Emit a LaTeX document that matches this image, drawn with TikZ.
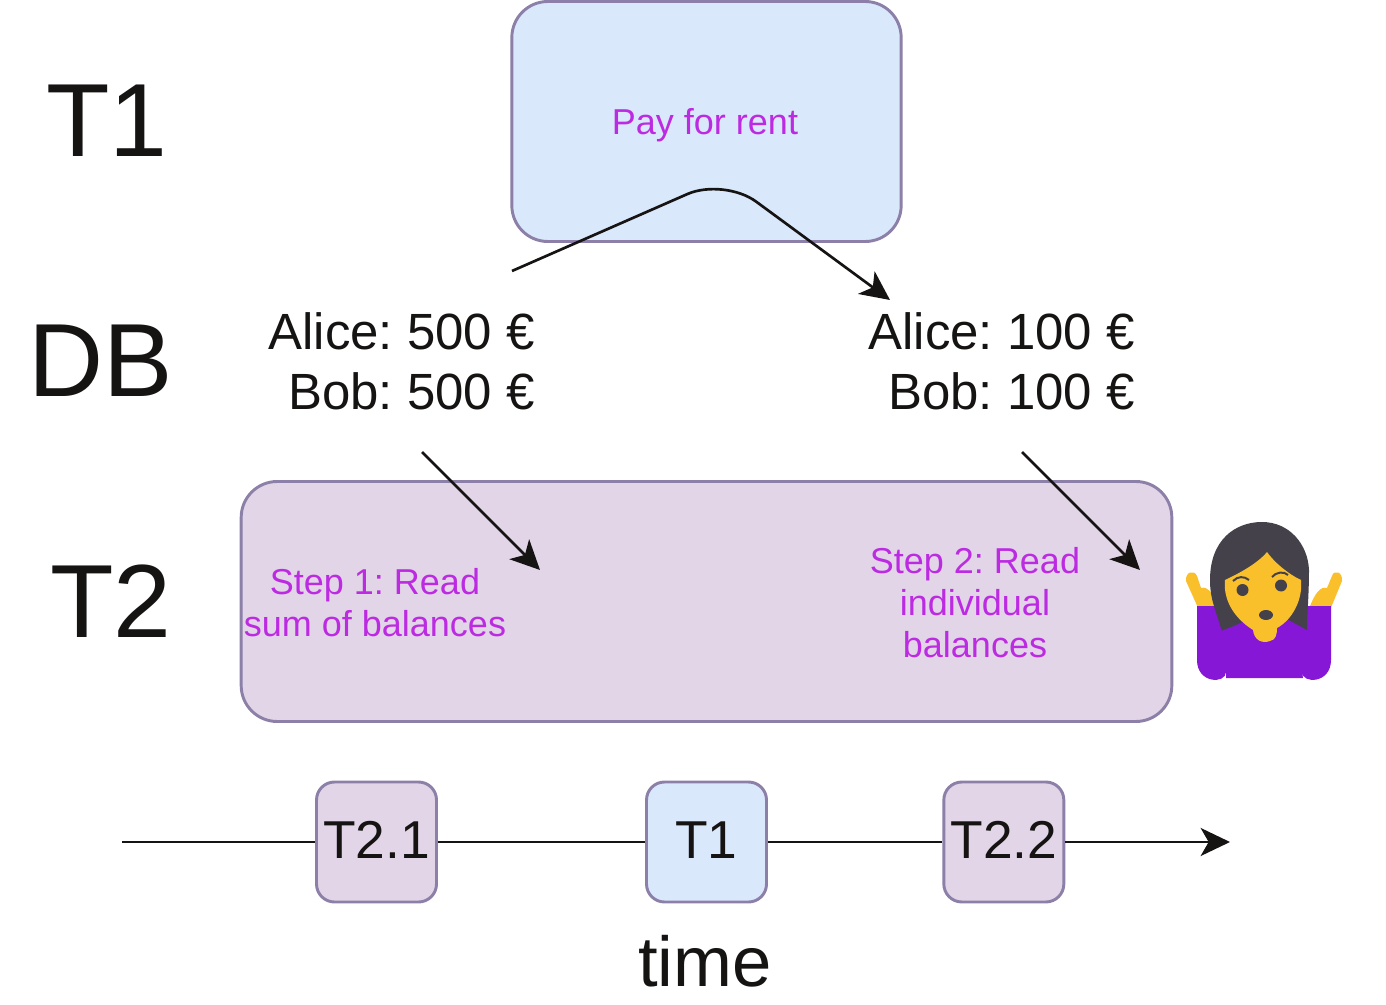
\documentclass[tikz,border=0pt]{standalone}
\usepackage{fontspec}
\setmainfont{Liberation Sans}
\usetikzlibrary{arrows.meta,positioning}
\definecolor{edgeC}{HTML}{8C80A8}
\definecolor{blueC}{HTML}{DAE8FC}
\definecolor{mauveC}{HTML}{E1D5E7}
\definecolor{textC}{HTML}{BC2BE2}
\definecolor{inkC}{HTML}{161313}
\definecolor{hairC}{HTML}{45414A}
\definecolor{skinC}{HTML}{F9C02C}
\definecolor{shirtC}{HTML}{8617D6}
\frenchspacing
\tikzset{
  bigbox/.style={draw=edgeC, line width=2.2pt, rounded corners=27pt, minimum width=292pt, inner sep=0pt},
  tickbox/.style={draw=edgeC, line width=2.2pt, rounded corners=13.5pt, minimum width=90pt, minimum height=90pt, inner sep=0pt, text=inkC, font=\fontsize{40}{48}\selectfont},
  rowlabel/.style={text=inkC, inner sep=0pt, font=\fontsize{78}{84}\selectfont},
  balance/.style={text=inkC, inner sep=0pt, align=right, font=\fontsize{38.2}{45}\selectfont},
  steplabel/.style={text=textC, inner sep=0pt, align=center, font=\fontsize{27}{31.5}\selectfont},
  flow/.style={draw=inkC, line width=2pt, -{Stealth[length=22pt,width=21pt,inset=6pt]}},
  hair/.style={fill=hairC}
}
\begin{document}
\begin{tikzpicture}[x=0.75pt, y=-0.75pt, node distance=223.5pt and 247.5pt, on grid]
  \useasboundingbox (0,0) rectangle (1386,1005);
  \node[bigbox, fill=blueC, minimum height=180pt] (payBox) at (706.5,121.5) {};
  \node[bigbox, fill=mauveC, minimum width=698pt, minimum height=180pt] (readBox) at (706.5,601.5) {};
  \node[steplabel] (payText) at (705,125) {Pay for rent};

  \node[rowlabel] (rowA) at (107,121) {T1};
  \node[rowlabel] (rowDb) at (101,361) {DB};
  \node[rowlabel] (rowB) at (111,601) {T2};

  \node[balance, anchor=east] (before) at (535,361) {Alice: 500 €\\Bob: 500 €};
  \node[balance, anchor=east] (after) at (1135,361) {Alice: 100 €\\Bob: 100 €};

  \node[steplabel] (stepOne) at (375,603) {Step 1: Read\\sum of balances};
  \node[steplabel] (stepTwo) at (975,603) {Step 2: Read\\individual\\balances};

  \node[tickbox, fill=blueC] (tickA) at (706.5,842) {\raisebox{3pt}{T1}};
  \node[tickbox, fill=mauveC, left=247.5pt of tickA] (tickB) {\raisebox{3pt}{T2.1}};
  \node[tickbox, fill=mauveC, right=223pt of tickA] (tickC) {\raisebox{3pt}{T2.2}};
  \node[text=inkC, inner sep=0pt, font=\fontsize{53}{60}\selectfont] (timeLabel) at (705,961) {time};

  \coordinate (payStart) at (512,271);
  \coordinate (payPeak) at (724,178);
  \coordinate (payEnd) at (890,300);
  \coordinate (readOneStart) at (422,452);
  \coordinate (readOneEnd) at (540,570);
  \coordinate (readTwoStart) at (1022,452);
  \coordinate (readTwoEnd) at (1140,570);
  \coordinate (lineStart) at (122,842);
  \coordinate (lineEnd) at (1230,842);

  \draw[flow, rounded corners=30pt] (payStart) -- (payPeak) -- (payEnd);
  \draw[flow] (readOneStart) -- (readOneEnd);
  \draw[flow] (readTwoStart) -- (readTwoEnd);
  \draw[inkC, line width=2pt] (lineStart) -- (tickB);
  \draw[inkC, line width=2pt] (tickB) -- (tickA);
  \draw[inkC, line width=2pt] (tickA) -- (tickC);
  \draw[flow] (tickC) -- (lineEnd);

  \fill[skinC] (1199,610) -- (1186,581) .. controls (1185,572) and (1194,569) .. (1197,576) -- (1201,588) .. controls (1208,586) and (1213,594) .. (1218,606) -- cycle;
  \fill[skinC] (1330,610) -- (1342,581) .. controls (1343,572) and (1334,569) .. (1332,576) -- (1327,588) .. controls (1320,586) and (1315,594) .. (1310,606) -- cycle;
  \fill[shirtC] (1197,606) -- (1331,606) -- (1331,660) .. controls (1331,684) and (1302,684) .. (1302,672) -- (1303,678) -- (1226,678) -- (1226,672) .. controls (1226,684) and (1197,684) .. (1197,660) -- cycle;
  \fill[hair] (1222,632) .. controls (1216,610) and (1210,600) .. (1210,580) .. controls (1210,540) and (1235,522) .. (1262,522) .. controls (1290,522) and (1308,545) .. (1309,570) .. controls (1309,595) and (1307,615) .. (1307,630) -- (1285,618) -- (1242,622) -- cycle;
  \fill[shirtC] (1221,631) -- (1242,623) -- (1262,632) -- (1283,620) -- (1304,630) -- (1304,640) -- (1221,640) -- cycle;
  \fill[skinC] (1267,552) .. controls (1258,563) and (1240,573) .. (1225,580) .. controls (1223,600) and (1234,618) .. (1253,630) .. controls (1254,640) and (1262,644) .. (1270,641) .. controls (1276,640) and (1277,634) .. (1277,628) .. controls (1292,620) and (1303,600) .. (1301,580) .. controls (1288,574) and (1274,562) .. (1267,552) -- cycle;
  \fill[hair] (1242.5,590) circle (6);
  \fill[hair] (1281,585.5) circle (6);
  \fill[hair] (1266,615) ellipse (7 and 5);
  \draw[hairC, line width=1.5pt] (1233,581) .. controls (1238,576) and (1244,576) .. (1249,580);
  \draw[hairC, line width=1.5pt] (1272,577) .. controls (1276,572) and (1284,571) .. (1288,575);
\end{tikzpicture}
\end{document}
